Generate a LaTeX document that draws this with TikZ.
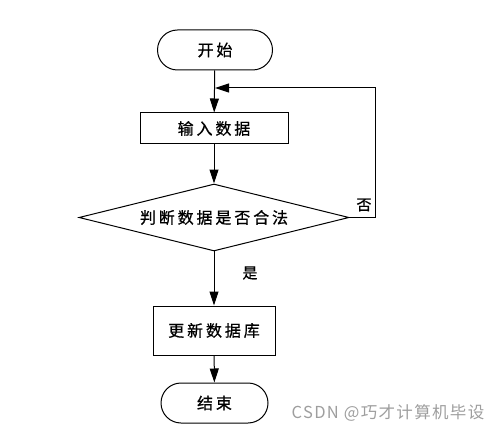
\documentclass[tikz,border=0pt]{standalone}
\usepackage{fontspec}
\setmainfont{Noto Sans CJK SC}
\newfontfamily\cjk[LetterSpace=18,FakeBold=0.7]{Noto Sans CJK SC}
\newfontfamily\wmfont[LetterSpace=8]{Noto Sans CJK SC}
\usetikzlibrary{shapes.geometric,arrows.meta}
\begin{document}
\begin{tikzpicture}[x=1pt,y=-1pt,
  every node/.style={font=\cjk\fontsize{16}{18}\selectfont, inner sep=0pt},
  term/.style={draw, line width=1pt, rounded corners=20pt, minimum height=40pt},
  proc/.style={draw, line width=1pt, minimum height=31pt},
  dec/.style={draw, line width=1pt, diamond, minimum width=270pt, minimum height=67pt},
  arr/.style={line width=1pt, -{Triangle[length=14pt,width=9pt]}},
  lab/.style={font=\cjk\fontsize{15}{17}\selectfont}]
\useasboundingbox (0,0) rectangle (500,430);
\node[term, minimum width=115pt] (start) at (215,50) {开始};
\node[proc, minimum width=148pt] (in) at (214,128.5) {输入数据};
\node[dec] (chk) at (214,217.5) {};
\node (chktext) at (chk.center) {判断数据是否合法};
\node[proc, minimum width=122pt, minimum height=49pt] (upd) at (214,330.5) {更新数据库};
\node[term, minimum width=107pt] (end) at (214.5,403) {结束};
\coordinate (j) at (215,88);
\coordinate (r) at (375,217.5);
\draw[arr] (start) -- (in);
\draw[arr] (in) -- (chk);
\draw[arr] (chk) -- (upd);
\draw[arr] (upd) -- (end);
\draw[arr] (chk.east) -- (r) |- (j);
\node[lab] (no) at (364,205) {否};
\node[lab] (yes) at (250,273) {是};
\node[font=\wmfont\fontsize{16.5}{18}\selectfont, text=black!38] (wm) at (388,413) {CSDN @巧才计算机毕设};
\end{tikzpicture}
\end{document}
